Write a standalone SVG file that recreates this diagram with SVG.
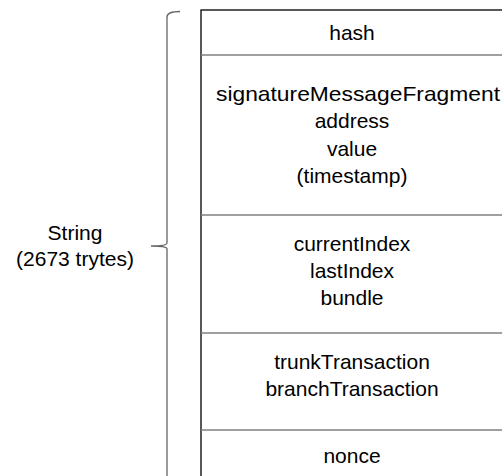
<svg xmlns="http://www.w3.org/2000/svg" width="502" height="476" viewBox="0 0 502 476">
<style>
text{font-family:"Liberation Sans",Arial,sans-serif;font-size:21px;fill:#000;text-anchor:middle}
.div{stroke:#7f7f7f;stroke-width:1.3;fill:none}
.box{stroke:#000;stroke-width:1.3;fill:#fff}
.brace{stroke:#666;stroke-width:1.3;fill:none}
</style>
<rect width="502" height="476" fill="#fff"/>
<g id="brace">
<path class="brace" d="M180,11.5 Q167,11.5 167,17 L167,243 Q167,246 151,246 Q167,246 167,249 L167,480"/>
<text x="75" y="240">String</text>
<text x="75" y="266">(2673 trytes)</text>
</g>
<g id="record">
<rect class="box" x="201" y="10" width="310" height="480"/>
</g>
<g id="connectors">
<line class="div" x1="201" y1="55" x2="502" y2="55"/>
<line class="div" x1="201" y1="215" x2="502" y2="215"/>
<line class="div" x1="201" y1="333" x2="502" y2="333"/>
<line class="div" x1="201" y1="430" x2="502" y2="430"/>
</g>
<g id="hash"><text x="352" y="40">hash</text></g>
<g id="sig">
<text x="358" y="101" textLength="284" lengthAdjust="spacingAndGlyphs">signatureMessageFragment</text>
<text x="352" y="128">address</text>
<text x="352" y="156">value</text>
<text x="352" y="183">(timestamp)</text>
</g>
<g id="index">
<text x="352" y="251">currentIndex</text>
<text x="352" y="278">lastIndex</text>
<text x="352" y="305">bundle</text>
</g>
<g id="tx">
<text x="352" y="369">trunkTransaction</text>
<text x="352" y="396">branchTransaction</text>
</g>
<g id="nonce"><text x="352" y="463">nonce</text></g>
</svg>
